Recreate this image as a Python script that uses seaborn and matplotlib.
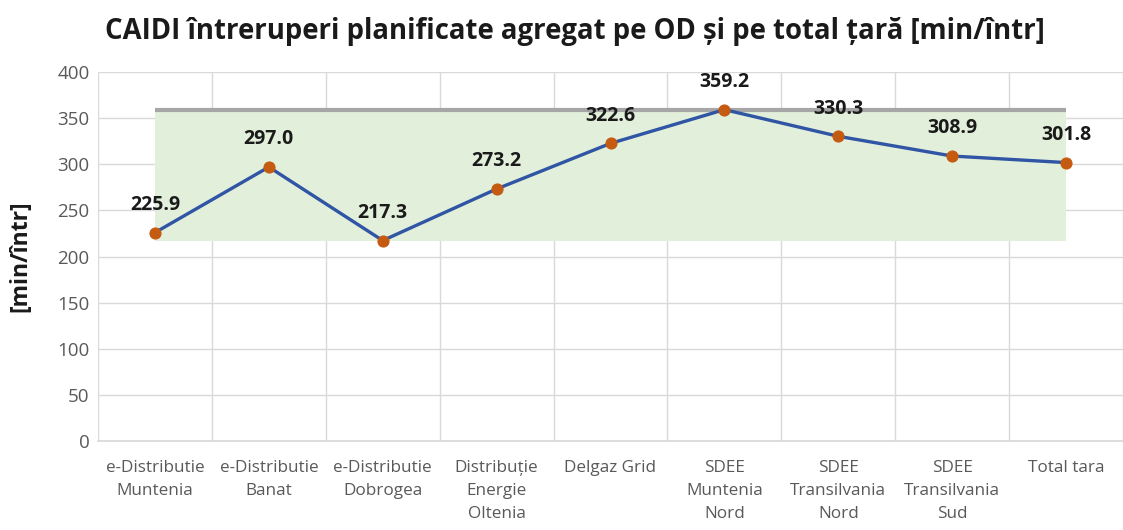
import numpy as np
import pandas as pd
import matplotlib.pyplot as plt
import seaborn as sns

sns.set_theme(style="white")
plt.rcParams["font.family"] = ["Open Sans", "DejaVu Sans"]

categories = [
    "e-Distributie\nMuntenia",
    "e-Distributie\nBanat",
    "e-Distributie\nDobrogea",
    "Distribuție\nEnergie\nOltenia",
    "Delgaz Grid",
    "SDEE\nMuntenia\nNord",
    "SDEE\nTransilvania\nNord",
    "SDEE\nTransilvania\nSud",
    "Total tara",
]
caidi = [225.9, 297.0, 217.3, 273.2, 322.6, 359.2, 330.3, 308.9, 301.8]
y_ticks = [0, 50, 100, 150, 200, 250, 300, 350, 400]

LINE_COLOR = "#2f55a4"
MARKER_COLOR = "#c55a11"
BAND_COLOR = "#e2efda"
MAX_COLOR = "#a6a6a6"
GRID_COLOR = "#d9d9d9"
TEXT_GREY = "#595959"

df = pd.DataFrame({"pos": np.arange(len(categories)), "caidi": caidi})
vmin, vmax = min(caidi), max(caidi)

fig = plt.figure(figsize=(11.23, 5.3), dpi=100)
ax = fig.add_axes([98 / 1123, 1 - 441 / 530, 1 - 98 / 1123, (441 - 72) / 530])

# min-max band and max line
ax.fill_between(df["pos"], vmin, vmax, color=BAND_COLOR, zorder=1, linewidth=0)
ax.hlines(vmax, df["pos"].iloc[0], df["pos"].iloc[-1], color=MAX_COLOR,
          linewidth=3, zorder=2)

sns.lineplot(data=df, x="pos", y="caidi", ax=ax, color=LINE_COLOR,
             linewidth=2.4, marker="o", markersize=8,
             markerfacecolor=MARKER_COLOR, markeredgecolor=MARKER_COLOR,
             zorder=3)

for x, v in zip(df["pos"], caidi):
    ax.annotate(f"{v:.1f}", (x, v), xytext=(0, 20), textcoords="offset points",
                ha="center", va="center", fontsize=14, fontweight="bold",
                color="#1a1a1a", zorder=4)

ax.set_xlim(-0.5, len(categories) - 0.5)
ax.set_ylim(0, 400)
ax.set_yticks(y_ticks)
ax.set_xticks(df["pos"])
ax.set_xticklabels(categories, fontsize=12.3, color=TEXT_GREY, linespacing=1.55,
                   va="top")
ax.set_xticks(np.arange(len(categories) + 1) - 0.5, minor=True)
ax.tick_params(axis="y", labelsize=13.5, labelcolor=TEXT_GREY, length=0, pad=6)
ax.tick_params(axis="x", which="major", length=0, pad=14)
ax.tick_params(axis="x", which="minor", length=8, color=GRID_COLOR, width=1)

ax.grid(axis="y", color=GRID_COLOR, linewidth=1)
ax.grid(axis="x", which="minor", color=GRID_COLOR, linewidth=1)
ax.set_axisbelow(True)
for side in ["top", "right", "left"]:
    ax.spines[side].set_visible(False)
ax.spines["bottom"].set_color(GRID_COLOR)

ax.set_xlabel("")
ax.set_ylabel("[min/într]", fontsize=16.5, fontweight="bold", color="#1a1a1a",
              labelpad=18)

fig.text(575 / 1123, 1 - 31 / 530,
         "CAIDI întreruperi planificate agregat pe OD și pe total țară [min/într]",
         ha="center", va="center", fontsize=19.8, fontweight="bold", color="#1a1a1a")

fig.savefig("out.png", dpi=100)
